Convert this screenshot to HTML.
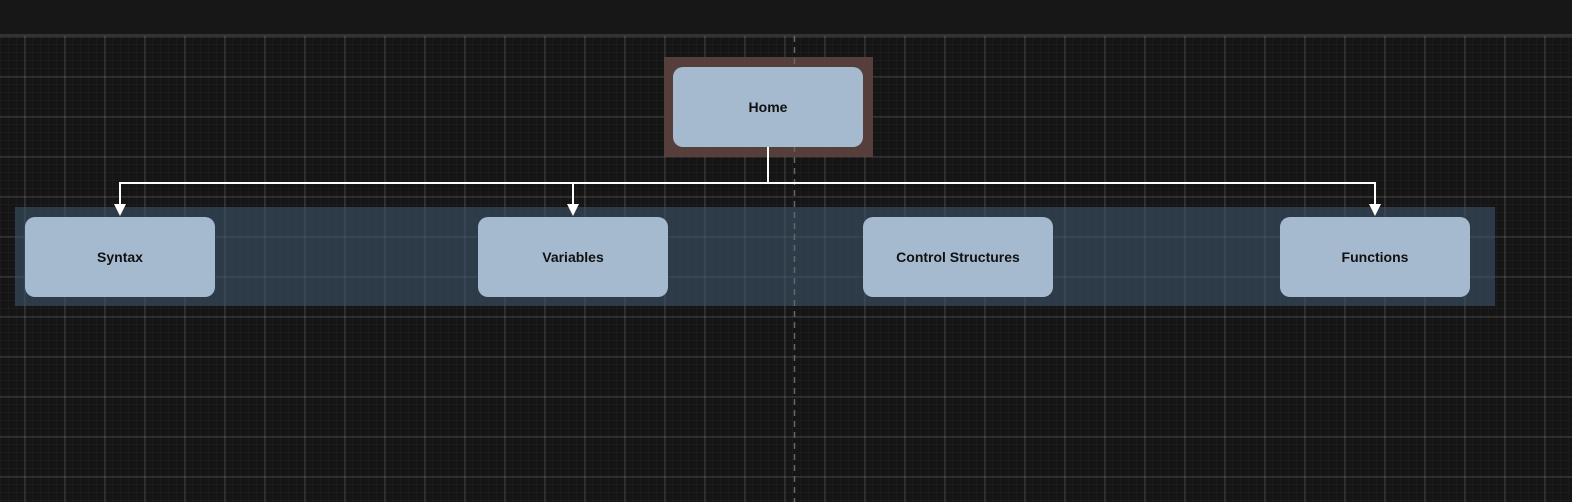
<!DOCTYPE html>
<html><head><style>
html,body{margin:0;padding:0;width:1572px;height:502px;overflow:hidden;background:#151515;font-family:"Liberation Sans",sans-serif}
.top{position:absolute;left:0;top:0;width:1572px;height:34px;background:#171717;border-bottom:2px solid #333}
.grid{position:absolute;left:0;top:36px;width:1572px;height:466px;
background-color:#151515;
background-image:
linear-gradient(to right,rgba(255,255,255,0.09) 0 2px,transparent 2px),
linear-gradient(to bottom,rgba(255,255,255,0.09) 0 2px,transparent 2px),
linear-gradient(to right,rgba(255,255,255,0.025) 0 1px,transparent 1px),
linear-gradient(to bottom,rgba(255,255,255,0.025) 0 1px,transparent 1px);
background-size:40px 40px,40px 40px,8px 8px,8px 8px;
background-position:24px 0,0 40px,0 0,0 0}
.box{position:absolute;width:190px;height:80px;background:#a5b9cf;border-radius:10px;display:flex;align-items:center;justify-content:center;font-weight:bold;font-size:14px;color:#111}
</style></head><body>
<div class="top"></div>
<div class="grid"></div>
<div style="position:absolute;left:664px;top:57px;width:209px;height:100px;background:#5a413d;opacity:.95"></div>
<div style="position:absolute;left:15px;top:207px;width:1480px;height:99px;background:rgba(60,85,105,0.6)"></div>
<svg width="1572" height="502" style="position:absolute;left:0;top:0">
<line x1="794.5" y1="36" x2="794.5" y2="502" stroke="#666" stroke-width="1.5" stroke-dasharray="6,5"/>
<g stroke="#fff" stroke-width="2" fill="none">
<line x1="768" y1="147" x2="768" y2="183"/>
<line x1="120" y1="183" x2="1375" y2="183"/>
<line x1="120" y1="182" x2="120" y2="206"/>
<line x1="573" y1="182" x2="573" y2="206"/>
<line x1="1375" y1="182" x2="1375" y2="206"/>
</g>
<g fill="#fff">
<polygon points="114,204 126,204 120,216"/>
<polygon points="567,204 579,204 573,216"/>
<polygon points="1369,204 1381,204 1375,216"/>
</g>
</svg>
<div class="box" style="left:673px;top:67px">Home</div>
<div class="box" style="left:25px;top:217px">Syntax</div>
<div class="box" style="left:478px;top:217px">Variables</div>
<div class="box" style="left:863px;top:217px">Control Structures</div>
<div class="box" style="left:1280px;top:217px">Functions</div>
</body></html>
